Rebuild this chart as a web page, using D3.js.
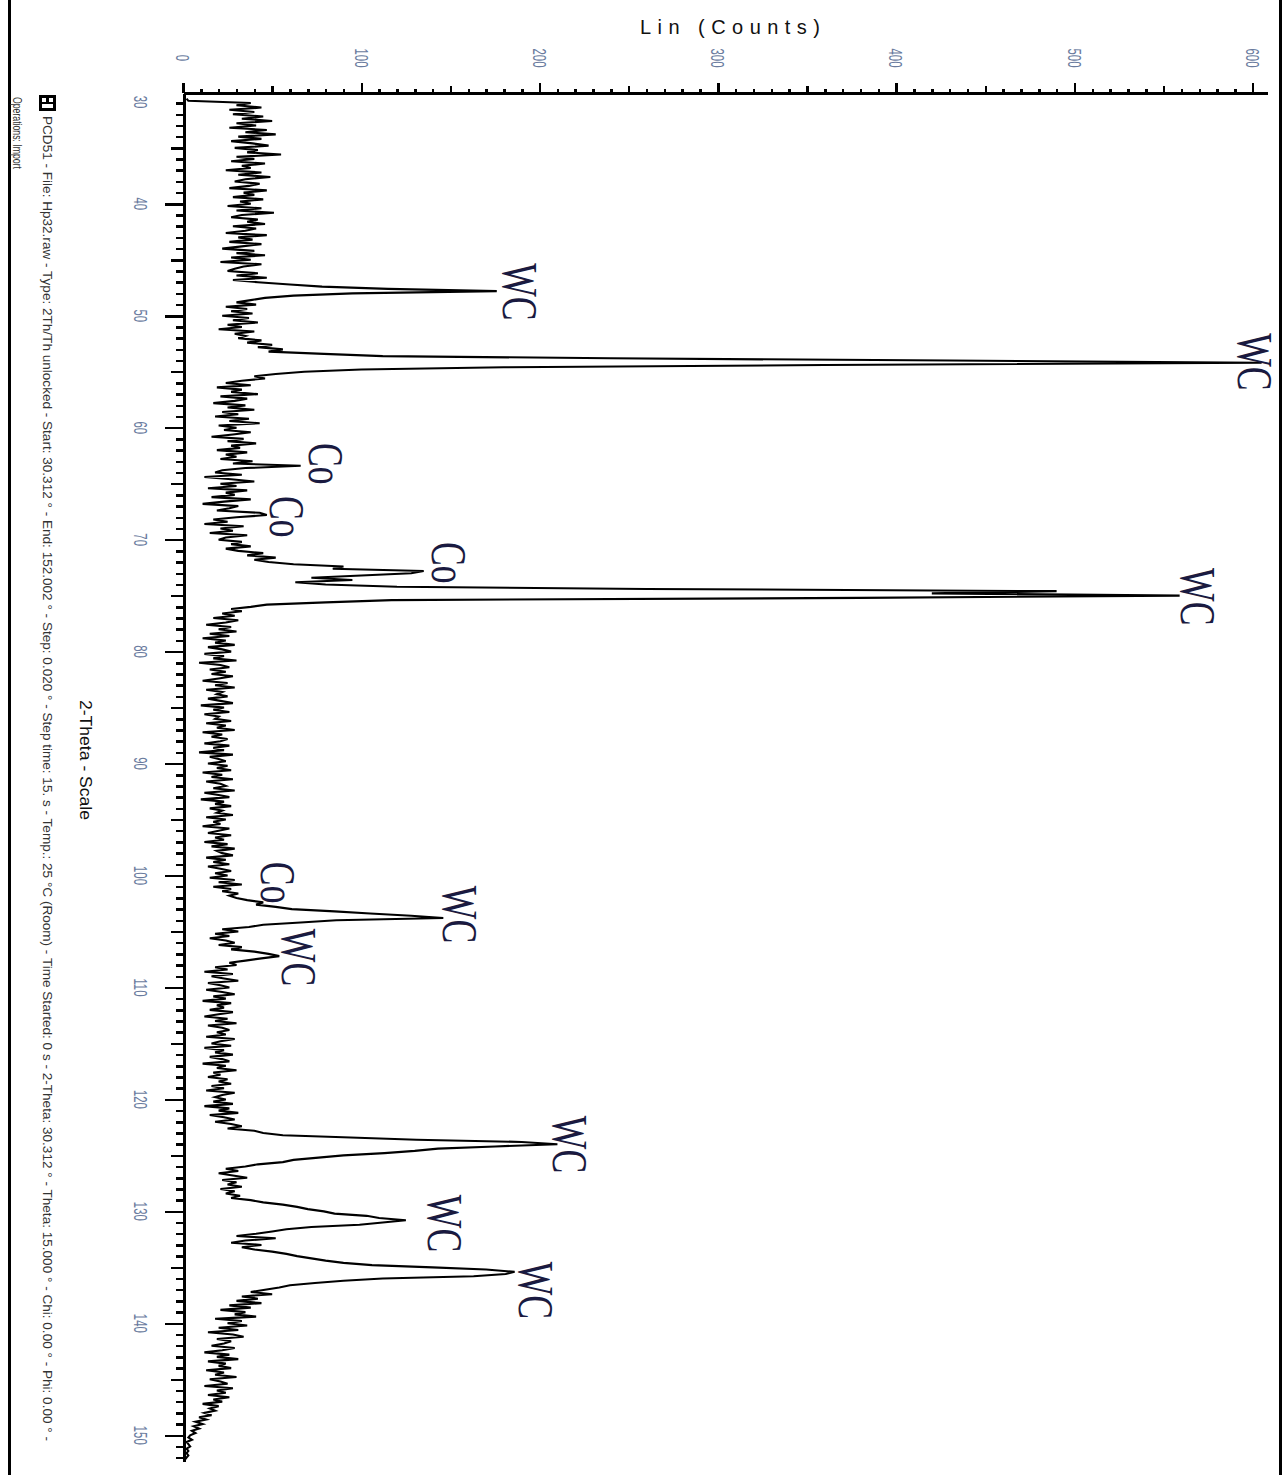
<!DOCTYPE html>
<html>
<head>
<meta charset="utf-8">
<script src="https://cdn.jsdelivr.net/npm/d3@7"></script>
<style>
body { margin: 0; background: #fff; }
svg { display: block; }
</style>
</head>
<body>
<svg width="1283" height="1475"></svg>
<script>
// scan grid (2-Theta, degrees)
var thetaStart = 30.6;
var thetaStep = 0.2;

// Lin (Counts); rows start at 30.6, 32, 34, ...
var counts = [
  2, 3, 38, 30, 44, 26, 40,
  28, 45, 33, 50, 30, 41, 26, 47, 35, 52,
  31, 44, 27, 39, 48, 29, 42, 36, 55, 30,
  40, 27, 46, 33, 38, 24, 44, 31, 49, 35,
  29, 43, 37, 26, 47, 34, 40, 28, 45, 32,
  38, 25, 44, 30, 51, 33, 27, 42, 36, 46,
  28, 41, 35, 24, 47, 31, 39, 26, 44, 33,
  22, 40, 30, 46, 27, 38, 21, 44, 34, 29,
  25, 42, 30, 47, 28, 42, 60, 78, 115, 176,
  95, 62, 46, 38, 30, 41, 24, 36, 27, 39,
  22, 37, 28, 42, 25, 33, 20, 40, 29, 35,
  31, 44, 36, 50, 42, 56, 48, 79, 112, 240,
  430, 605, 360, 180, 100, 68, 52, 40, 46, 33,
  24, 38, 19, 33, 27, 42, 21, 36, 29, 17,
  35, 25, 40, 22, 31, 18, 37, 26, 43, 20,
  30, 23, 38, 28, 16, 34, 25, 41, 27, 32,
  19, 36, 24, 30, 21, 39, 28, 66, 35, 22,
  18, 33, 12, 27, 40, 21, 30, 14, 36, 24,
  29, 16, 38, 23, 11, 31, 26, 19, 43, 47,
  30, 17, 25, 12, 34, 21, 28, 15, 36, 24,
  20, 33, 27, 38, 24, 31, 45, 36, 52, 40,
  48, 62, 90, 84, 135, 128, 100, 72, 95, 63,
  80, 120, 260, 490, 420, 559, 380, 117, 80, 47,
  38, 27, 33, 22, 29, 17, 31, 24, 13, 27,
  20, 30, 15, 26, 11, 24, 18, 29, 14, 22,
  27, 12, 23, 17, 30, 9, 21, 26, 15, 24,
  16, 28, 20, 11, 25, 18, 29, 13, 22, 19,
  25, 14, 21, 28, 10, 23, 17, 26, 12, 20,
  18, 27, 13, 24, 19, 29, 11, 22, 16, 25,
  21, 12, 26, 17, 23, 9, 28, 15, 20, 24,
  14, 25, 19, 27, 11, 22, 16, 28, 13, 21,
  24, 17, 29, 12, 20, 26, 10, 23, 18, 27,
  15, 22, 19, 28, 13, 24, 17, 21, 11, 26,
  20, 14, 27, 18, 23, 12, 25, 16, 29, 19,
  22, 28, 13, 24, 17, 26, 14, 21, 27, 18,
  25, 15, 29, 20, 33, 17, 27, 22, 31, 26,
  30, 36, 45, 41, 52, 61, 85, 105, 128, 146,
  86, 66, 45, 37, 22, 31, 18, 26, 15, 24,
  29, 20, 33, 27, 40, 48, 54, 44, 35, 26,
  30, 18, 25, 12, 28, 16, 23, 31, 14, 21,
  26, 13, 22, 29, 17, 24, 11, 27, 19, 23,
  15, 28, 20, 12, 25, 18, 30, 14, 22, 26,
  19, 24, 13, 29, 21, 16, 27, 12, 23, 18,
  28, 15, 22, 26, 11, 24, 19, 30, 17, 21,
  14, 25, 20, 27, 16, 23, 13, 29, 22, 18,
  24, 17, 28, 12, 26, 20, 31, 15, 23, 29,
  18, 27, 33, 25, 40, 45, 56, 94, 131, 190,
  210, 175, 143, 130, 113, 90, 76, 62, 56, 42,
  35, 24, 31, 20, 28, 36, 22, 30, 25, 33,
  21, 29, 24, 32, 27, 38, 45, 56, 64, 70,
  79, 85, 103, 110, 125, 112, 99, 72, 58, 50,
  41, 30, 52, 35, 27, 44, 33, 40, 50, 58,
  64, 72, 80, 90, 106, 140, 170, 186, 181, 163,
  112, 90, 74, 60, 54, 46, 38, 50, 33, 42,
  30, 44, 26, 38, 21, 35, 29, 41, 18, 33,
  25, 36, 20, 31, 14, 28, 34, 19, 27, 23,
  16, 29, 22, 12, 26, 19, 31, 14, 24, 20,
  27, 13, 23, 18, 30, 15, 21, 25, 12, 28,
  19, 24, 14, 26, 17, 22, 11, 20, 15, 18,
  12, 16, 9, 13, 7, 11, 6, 9, 5, 7,
  4, 3, 5, 2, 3, 4, 2, 3, 2, 3,
  2, 1
];

// phase marks: name, 2-Theta and counts where the mark sits
var markNames  = ["WC", "WC", "Co", "Co", "Co", "WC", "Co", "WC", "WC", "WC", "WC", "WC"];
var markTheta  = [47.87, 54.12, 63.23, 67.96, 72.06, 75.1, 100.64, 103.49, 107.33, 124.03, 131.08, 137.06];
var markCounts = [189, 601, 80, 58, 149, 569, 53, 155, 65, 217, 147, 198];

var countTicks = [0, 100, 200, 300, 400, 500, 600];
var thetaTicks = [30, 40, 50, 60, 70, 80, 90, 100, 110, 120, 130, 140, 150];

var captionLines = [
  "PCD51 - File: Hp32.raw - Type: 2Th/Th unlocked - Start: 30.312 \u00b0 - End: 152.002 \u00b0 - Step: 0.020 \u00b0 - Step time: 15. s - Temp.: 25 \u00b0C (Room) - Time Started: 0 s - 2-Theta: 30.312 \u00b0 - Theta: 15.000 \u00b0 - Chi: 0.00 \u00b0 - Phi: 0.00 \u00b0 -",
  "Operations: Import"
];

var svg = d3.select("svg");

var x = d3.scaleLinear().domain([0, 608]).range([183, 1267]);
var y = d3.scaleLinear().domain([30.1, 152.3]).range([93, 1461]);

// frame
svg.append("line").attr("x1", 9.5).attr("x2", 9.5).attr("y1", 0).attr("y2", 1475)
    .attr("stroke", "#000").attr("stroke-width", 3);
svg.append("line").attr("x1", 1280.5).attr("x2", 1280.5).attr("y1", 0).attr("y2", 1475)
    .attr("stroke", "#000").attr("stroke-width", 3);

// axes, three tick lengths each
function styleAxis(g) {
    g.selectAll("line").attr("stroke", "#000").attr("stroke-width", 2.5);
    g.select(".domain").attr("stroke", "#000").attr("stroke-width", 2.5);
    g.attr("shape-rendering", "crispEdges");
}

var topMinor = d3.range(0, 601, 10);
var topMid = d3.range(50, 601, 100);
svg.append("g").attr("transform", "translate(0,93)")
    .call(d3.axisTop(x).tickValues(topMinor).tickSize(4).tickSizeOuter(0).tickFormat(""))
    .call(styleAxis);
svg.append("g").attr("transform", "translate(0,93)")
    .call(d3.axisTop(x).tickValues(topMid).tickSize(7).tickSizeOuter(0).tickFormat(""))
    .call(styleAxis);
svg.append("g").attr("transform", "translate(0,93)")
    .call(d3.axisTop(x).tickValues(countTicks).tickSize(10).tickSizeOuter(0).tickFormat(""))
    .call(styleAxis);

var leftMinor = d3.range(31, 153, 1);
var leftMid = d3.range(35, 153, 10);
var leftMajor = thetaTicks.filter(function(d){ return d >= 40; });
svg.append("g").attr("transform", "translate(184,0)")
    .call(d3.axisLeft(y).tickValues(leftMinor).tickSize(8).tickSizeOuter(0).tickFormat(""))
    .call(styleAxis);
svg.append("g").attr("transform", "translate(184,0)")
    .call(d3.axisLeft(y).tickValues(leftMid).tickSize(13).tickSizeOuter(0).tickFormat(""))
    .call(styleAxis);
svg.append("g").attr("transform", "translate(184,0)")
    .call(d3.axisLeft(y).tickValues(leftMajor).tickSize(19).tickSizeOuter(0).tickFormat(""))
    .call(styleAxis);

// tick labels, turned like the rest of the plot
svg.append("g").selectAll("text")
    .data(countTicks)
    .enter().append("text")
    .attr("transform", function(d){ return "translate(" + x(d) + ",58) rotate(90) scale(0.6,1)"; })
    .attr("text-anchor", "middle")
    .attr("dominant-baseline", "central")
    .attr("font-family", "Liberation Sans, Arial, sans-serif")
    .attr("font-size", 19)
    .attr("fill", "#6a7b9e")
    .text(function(d){ return d; });

svg.append("g").selectAll("text")
    .data(thetaTicks)
    .enter().append("text")
    .attr("transform", function(d){
        var ty = Math.max(y(d), y.range()[0] + 9);
        return "translate(141," + ty + ") rotate(90) scale(0.6,1)";
    })
    .attr("text-anchor", "middle")
    .attr("dominant-baseline", "central")
    .attr("font-family", "Liberation Sans, Arial, sans-serif")
    .attr("font-size", 19)
    .attr("fill", "#6a7b9e")
    .text(function(d){ return d; });

// axis titles
svg.append("text")
    .attr("x", 730).attr("y", 34)
    .attr("text-anchor", "middle")
    .attr("font-family", "Liberation Sans, Arial, sans-serif")
    .attr("font-size", 20)
    .attr("textLength", 180)
    .attr("lengthAdjust", "spacing")
    .attr("fill", "#111")
    .text("Lin (Counts)");

svg.append("text")
    .attr("transform", "translate(85,760) rotate(90)")
    .attr("text-anchor", "middle")
    .attr("dominant-baseline", "central")
    .attr("font-family", "Liberation Sans, Arial, sans-serif")
    .attr("font-size", 17)
    .attr("textLength", 120)
    .attr("lengthAdjust", "spacingAndGlyphs")
    .attr("fill", "#111")
    .text("2-Theta - Scale");

// caption with its swatch
svg.append("rect").attr("x", 39).attr("y", 95).attr("width", 17).attr("height", 16).attr("fill", "#000");
svg.append("rect").attr("x", 42).attr("y", 98).attr("width", 4).attr("height", 4).attr("fill", "#fff");
svg.append("rect").attr("x", 42).attr("y", 104).attr("width", 11).attr("height", 4).attr("fill", "#fff");
svg.append("rect").attr("x", 49).attr("y", 98).attr("width", 4).attr("height", 4).attr("fill", "#fff");

var capX = [47, 17];
var capY = [116, 97];
var capLen = [1325, 72];
svg.append("g").selectAll("text")
    .data(captionLines)
    .enter().append("text")
    .attr("transform", function(d, i){ return "translate(" + capX[i] + "," + capY[i] + ") rotate(90)"; })
    .attr("dominant-baseline", "central")
    .attr("font-family", "Liberation Sans, Arial, sans-serif")
    .attr("font-size", 13)
    .attr("textLength", function(d, i){ return capLen[i]; })
    .attr("lengthAdjust", "spacingAndGlyphs")
    .attr("fill", "#333")
    .text(function(d){ return d; });

// the pattern
var pts = counts.map(function(c, i){ return [thetaStart + i * thetaStep, c]; });
var line = d3.line()
    .x(function(d){ return x(d[1]); })
    .y(function(d){ return y(d[0]); });

svg.append("path")
    .datum(pts)
    .attr("d", line)
    .attr("fill", "none")
    .attr("stroke", "#000")
    .attr("stroke-width", 2.1)
    .attr("stroke-linejoin", "miter");

// phase marks
svg.append("g").selectAll("text")
    .data(markNames)
    .enter().append("text")
    .attr("transform", function(d, i){
        return "translate(" + x(markCounts[i]) + "," + y(markTheta[i]) + ") rotate(90) scale(0.7,1)";
    })
    .attr("text-anchor", "middle")
    .attr("dominant-baseline", "central")
    .attr("font-family", "Liberation Serif, Times New Roman, serif")
    .attr("font-size", 51)
    .attr("fill", "#1a1a40")
    .text(function(d){ return d; });
</script>
</body>
</html>
